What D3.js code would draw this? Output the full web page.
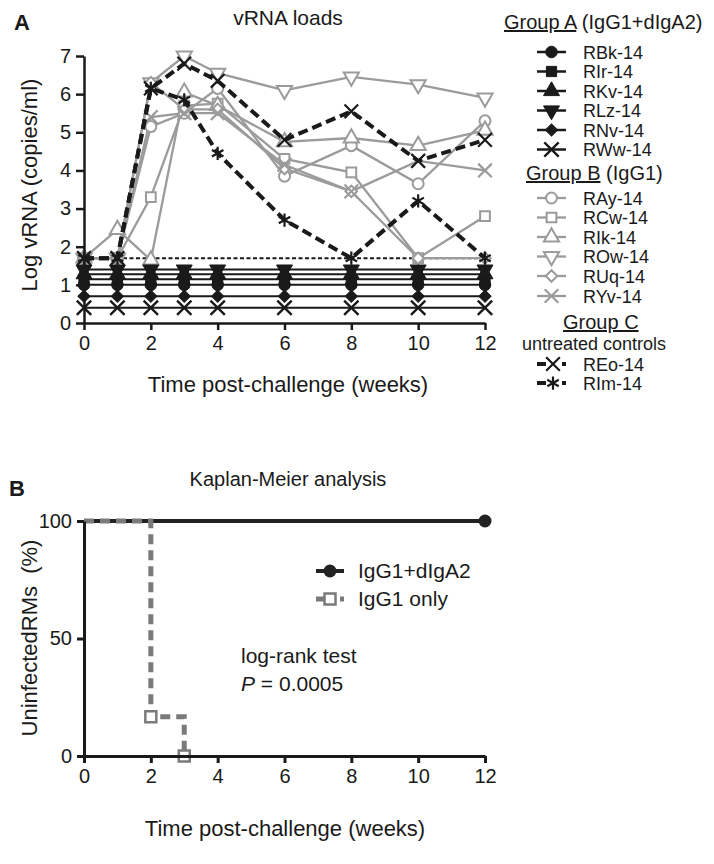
<!DOCTYPE html>
<html><head><meta charset="utf-8">
<script src="https://cdn.jsdelivr.net/npm/d3@7"></script>
<style>
body{margin:0;background:#fff}
svg{display:block}
text{font-family:"Liberation Sans",Arial,Helvetica,sans-serif;fill:#1a1a1a}
</style>
</head><body><svg id="c" width="714" height="864"></svg>
<script>
// ---------------- DATA ----------------
const weeks = [0, 1, 2, 3, 4, 6, 8, 10, 12];
const xTickValues = [0, 2, 4, 6, 8, 10, 12];
const yTickValuesA = [0, 1, 2, 3, 4, 5, 6, 7];
const detectionLimit = 1.7;

// Group A (IgG1+dIgA2) - log vRNA per week
const RBk14 = [1.0, 1.0, 1.0, 1.0, 1.0, 1.0, 1.0, 1.0, 1.0];
const RIr14 = [1.15, 1.15, 1.15, 1.15, 1.15, 1.15, 1.15, 1.15, 1.15];
const RKv14 = [1.28, 1.28, 1.28, 1.28, 1.28, 1.28, 1.28, 1.28, 1.28];
const RLz14 = [1.4, 1.4, 1.4, 1.4, 1.4, 1.4, 1.4, 1.4, 1.4];
const RNv14 = [0.7, 0.7, 0.7, 0.7, 0.7, 0.7, 0.7, 0.7, 0.7];
const RWw14 = [0.4, 0.4, 0.4, 0.4, 0.4, 0.4, 0.4, 0.4, 0.4];
// Group B (IgG1)
const RAy14 = [1.7, 1.7, 5.15, 5.5, 6.15, 3.85, 4.65, 3.65, 5.3];
const RCw14 = [1.7, 1.7, 3.3, 5.7, 5.75, 4.3, 3.95, 1.7, 2.8];
const RIk14 = [1.7, 2.45, 1.65, 6.05, 5.7, 4.75, 4.85, 4.65, 5.05];
const ROw14 = [1.7, 1.7, 6.3, 7.0, 6.55, 6.1, 6.45, 6.25, 5.9];
const RUq14 = [1.7, 1.7, 6.3, 5.6, 5.6, 4.05, 3.45, 1.7, 1.7];
const RYv14 = [1.7, 1.7, 5.4, 5.5, 5.5, 4.15, 3.45, 4.25, 4.0];
// Group C (untreated controls)
const REo14 = [1.7, 1.7, 6.15, 6.8, 6.35, 4.8, 5.55, 4.25, 4.8];
const RIm14 = [1.7, 1.7, 6.15, 5.85, 4.45, 2.7, 1.7, 3.2, 1.7];

// Kaplan-Meier
const kmTimesA = [0, 12];
const kmSurvA = [100, 100];
const kmCensorA = [[12, 100]];
const kmTimesB = [0, 2, 3];
const kmSurvB = [100, 16.7, 0];
const kmEventsB = [[2, 16.7], [3, 0]];
const yTickValuesB = [0, 50, 100];

// ---------------- SETUP ----------------
const svg = d3.select("#c");
const GRAY = "#9b9b9b";
const BLACK = "#1a1a1a";
const LEGFONT = "18px";

function shapePath(shape, size) {
  const map = {
    circle: d3.symbolCircle, square: d3.symbolSquare, triangle: d3.symbolTriangle,
    down: d3.symbolTriangle, diamond: d3.symbolSquare, times: d3.symbolTimes, asterisk: d3.symbolAsterisk
  };
  return d3.symbol().type(map[shape]).size(size)();
}
function shapeRot(shape) { return shape === "down" ? 180 : shape === "diamond" ? 45 : 0; }

function drawMarker(g, shape, cx, cy, opts) {
  const stroked = shape === "times" || shape === "asterisk";
  let size = opts.size;
  if (shape === "diamond") size = size * 0.7;
  if (shape === "triangle" || shape === "down") size = size * 1.05;
  g.append("path")
    .attr("d", shapePath(shape, stroked ? size * 1.3 : size))
    .attr("transform", `translate(${cx},${cy}) rotate(${shapeRot(shape)})`)
    .attr("fill", stroked ? "none" : opts.fill)
    .attr("stroke", opts.stroke)
    .attr("stroke-width", stroked ? opts.xWidth : opts.strokeWidth);
}

// ---------------- PANEL A ----------------
const xA = d3.scaleLinear().domain([0, 12]).range([84, 485]);
const yA = d3.scaleLinear().domain([0, 7]).range([323, 56]);

const gA = svg.append("g");
const seriesA = [
  {name: "RBk-14", v: RBk14, shape: "circle"},
  {name: "RIr-14", v: RIr14, shape: "square"},
  {name: "RKv-14", v: RKv14, shape: "triangle"},
  {name: "RLz-14", v: RLz14, shape: "down"},
  {name: "RNv-14", v: RNv14, shape: "diamond"},
  {name: "RWw-14", v: RWw14, shape: "times"}
];
const seriesB = [
  {name: "RAy-14", v: RAy14, shape: "circle"},
  {name: "RCw-14", v: RCw14, shape: "square"},
  {name: "RIk-14", v: RIk14, shape: "triangle"},
  {name: "ROw-14", v: ROw14, shape: "down"},
  {name: "RUq-14", v: RUq14, shape: "diamond"},
  {name: "RYv-14", v: RYv14, shape: "times"}
];
const seriesC = [
  {name: "REo-14", v: REo14, shape: "times"},
  {name: "RIm-14", v: RIm14, shape: "asterisk"}
];

const lineA = d3.line().x((d, i) => xA(weeks[i])).y(d => yA(d));

// detection limit line
gA.append("line")
  .attr("x1", xA(0)).attr("x2", xA(12))
  .attr("y1", yA(detectionLimit)).attr("y2", yA(detectionLimit))
  .attr("stroke", BLACK).attr("stroke-width", 2).attr("stroke-dasharray", "4,2.5");

// group B
seriesB.forEach(s => {
  gA.append("path").attr("d", lineA(s.v)).attr("fill", "none")
    .attr("stroke", GRAY).attr("stroke-width", 2.3);
});
seriesB.forEach(s => {
  s.v.forEach((d, i) => drawMarker(gA, s.shape, xA(weeks[i]), yA(d),
    {size: 95, fill: "#fff", stroke: GRAY, strokeWidth: 2, xWidth: 2.2}));
});
// group A
seriesA.forEach(s => {
  gA.append("path").attr("d", lineA(s.v)).attr("fill", "none")
    .attr("stroke", BLACK).attr("stroke-width", 2);
});
seriesA.forEach(s => {
  s.v.forEach((d, i) => drawMarker(gA, s.shape, xA(weeks[i]), yA(d),
    {size: 105, fill: BLACK, stroke: BLACK, strokeWidth: 1, xWidth: 2.4}));
});
// group C
seriesC.forEach(s => {
  gA.append("path").attr("d", lineA(s.v)).attr("fill", "none")
    .attr("stroke", BLACK).attr("stroke-width", 4).attr("stroke-dasharray", "10,5");
});
seriesC.forEach(s => {
  s.v.forEach((d, i) => drawMarker(gA, s.shape, xA(weeks[i]), yA(d),
    {size: 95, fill: BLACK, stroke: BLACK, strokeWidth: 1, xWidth: 2.2}));
});

// axes A
function styleAxis(g, w) {
  g.selectAll(".domain").attr("stroke", BLACK).attr("stroke-width", w);
  g.selectAll(".tick line").attr("stroke", BLACK).attr("stroke-width", w);
  g.selectAll(".tick text").attr("fill", BLACK).style("font-size", "20px")
    .style("font-family", '"Liberation Sans",Arial,sans-serif');
}
const axA_y = svg.append("g").attr("transform", `translate(${xA(0)},0)`)
  .call(d3.axisLeft(yA).tickValues(yTickValuesA).tickFormat(d3.format("d"))
    .tickSize(8).tickSizeOuter(0).tickPadding(5));
styleAxis(axA_y, 2.5);
const axA_x = svg.append("g").attr("transform", `translate(0,${yA(0)})`)
  .call(d3.axisBottom(xA).tickValues(xTickValues).tickFormat(d3.format("d"))
    .tickSize(7).tickSizeOuter(0).tickPadding(6));
styleAxis(axA_x, 2.5);

svg.append("text").attr("x", 14).attr("y", 30).text("A")
  .style("font-size", "22px").style("font-weight", "bold");
svg.append("text").attr("x", 288).attr("y", 25).attr("text-anchor", "middle").text("vRNA loads")
  .style("font-size", "21px");
svg.append("text").attr("transform", "translate(37,185) rotate(-90)").attr("text-anchor", "middle")
  .text("Log vRNA (copies/ml)").style("font-size", "22px");
svg.append("text").attr("x", 288).attr("y", 392).attr("text-anchor", "middle")
  .text("Time post-challenge (weeks)").style("font-size", "22px");

// legend A
const leg = svg.append("g");
function header(x, y, under, rest) {
  const t = leg.append("text").attr("x", x).attr("y", y).style("font-size", "20px");
  t.append("tspan").text(under).style("text-decoration", "underline");
  if (rest) t.append("tspan").text(rest);
}
header(504, 29, "Group A", " (IgG1+dIgA2)");
const legRowsA = [52, 71.5, 91, 110.5, 130, 149.5];
seriesA.forEach((s, i) => {
  const y = legRowsA[i];
  leg.append("line").attr("x1", 537).attr("x2", 566).attr("y1", y).attr("y2", y)
    .attr("stroke", BLACK).attr("stroke-width", 2.5);
  drawMarker(leg, s.shape, 551.5, y, {size: 105, fill: BLACK, stroke: BLACK, strokeWidth: 1, xWidth: 2.4});
  leg.append("text").attr("x", 583).attr("y", y + 6.5).text(s.name).style("font-size", LEGFONT);
});
header(526, 180, "Group B", "  (IgG1)");
const legRowsB = [198, 217.5, 237, 256.5, 276, 296];
seriesB.forEach((s, i) => {
  const y = legRowsB[i];
  leg.append("line").attr("x1", 537).attr("x2", 566).attr("y1", y).attr("y2", y)
    .attr("stroke", GRAY).attr("stroke-width", 2.3);
  drawMarker(leg, s.shape, 551.5, y, {size: 95, fill: "#fff", stroke: GRAY, strokeWidth: 2, xWidth: 2.2});
  leg.append("text").attr("x", 583).attr("y", y + 6.5).text(s.name).style("font-size", LEGFONT);
});
header(563, 329, "Group C", null);
leg.append("text").attr("x", 522).attr("y", 350).text("untreated controls").style("font-size", LEGFONT);
const legRowsC = [364, 383];
seriesC.forEach((s, i) => {
  const y = legRowsC[i];
  leg.append("line").attr("x1", 537).attr("x2", 546).attr("y1", y).attr("y2", y)
    .attr("stroke", BLACK).attr("stroke-width", 4);
  leg.append("line").attr("x1", 562).attr("x2", 566).attr("y1", y).attr("y2", y)
    .attr("stroke", BLACK).attr("stroke-width", 4);
  drawMarker(leg, s.shape, 553, y, {size: 95, fill: BLACK, stroke: BLACK, strokeWidth: 1, xWidth: 2.2});
  leg.append("text").attr("x", 583).attr("y", y + 6.5).text(s.name).style("font-size", LEGFONT);
});

// ---------------- PANEL B ----------------
const xB = d3.scaleLinear().domain([0, 12]).range([84, 485]);
const yB = d3.scaleLinear().domain([0, 100]).range([756, 521]);
const gB = svg.append("g");

const stepLine = d3.line().curve(d3.curveStepAfter);
gB.append("path").attr("d", stepLine(kmTimesA.map((t, i) => [xB(t), yB(kmSurvA[i])])))
  .attr("fill", "none").attr("stroke", "#222").attr("stroke-width", 4);
gB.append("path").attr("d", stepLine(kmTimesB.map((t, i) => [xB(t), yB(kmSurvB[i])])))
  .attr("fill", "none").attr("stroke", "#7a7a7a").attr("stroke-width", 5).attr("stroke-dasharray", "10,6");
kmCensorA.forEach(p => gB.append("circle").attr("cx", xB(p[0])).attr("cy", yB(p[1])).attr("r", 6.5).attr("fill", "#222"));
kmEventsB.forEach(p => gB.append("rect").attr("x", xB(p[0]) - 5.5).attr("y", yB(p[1]) - 5.5)
  .attr("width", 11).attr("height", 11).attr("fill", "#fff").attr("stroke", "#7a7a7a").attr("stroke-width", 2.5));

const axB_y = svg.append("g").attr("transform", `translate(${xB(0)},0)`)
  .call(d3.axisLeft(yB).tickValues(yTickValuesB).tickFormat(d3.format("d"))
    .tickSize(7).tickSizeOuter(0).tickPadding(5));
styleAxis(axB_y, 3);
const axB_x = svg.append("g").attr("transform", `translate(0,${yB(0)})`)
  .call(d3.axisBottom(xB).tickValues(xTickValues).tickFormat(d3.format("d"))
    .tickSize(7).tickSizeOuter(0).tickPadding(6));
styleAxis(axB_x, 3);

svg.append("text").attr("x", 9).attr("y", 496).text("B")
  .style("font-size", "22px").style("font-weight", "bold");
svg.append("text").attr("x", 288).attr("y", 486).attr("text-anchor", "middle").text("Kaplan-Meier analysis")
  .style("font-size", "20px");
svg.append("text").attr("transform", "translate(37,638) rotate(-90)").attr("text-anchor", "middle")
  .text("UninfectedRMs  (%)").style("font-size", "22px").style("white-space", "pre");
svg.append("text").attr("x", 285).attr("y", 836).attr("text-anchor", "middle")
  .text("Time post-challenge (weeks)").style("font-size", "22px");

// legend B
const legB = [{label: "IgG1+dIgA2", y: 571, color: "#222", sq: false},
              {label: "IgG1 only", y: 599, color: "#7a7a7a", sq: true}];
legB.forEach(l => {
  svg.append("line").attr("x1", 316).attr("x2", 344).attr("y1", l.y).attr("y2", l.y)
    .attr("stroke", l.color).attr("stroke-width", l.sq ? 5 : 4)
    .attr("stroke-dasharray", l.sq ? "8,4" : null);
  if (l.sq) svg.append("rect").attr("x", 330 - 5.5).attr("y", l.y - 5.5).attr("width", 11).attr("height", 11)
    .attr("fill", "#fff").attr("stroke", l.color).attr("stroke-width", 2.5);
  else svg.append("circle").attr("cx", 330).attr("cy", l.y).attr("r", 6.5).attr("fill", l.color);
  svg.append("text").attr("x", 358).attr("y", l.y + 7).text(l.label).style("font-size", "21px");
});
svg.append("text").attr("x", 241).attr("y", 663).text("log-rank test").style("font-size", "21px");
const pt = svg.append("text").attr("x", 241).attr("y", 691).style("font-size", "21px");
pt.append("tspan").text("P").style("font-style", "italic");
pt.append("tspan").text(" = 0.0005");
</script>
</body></html>
